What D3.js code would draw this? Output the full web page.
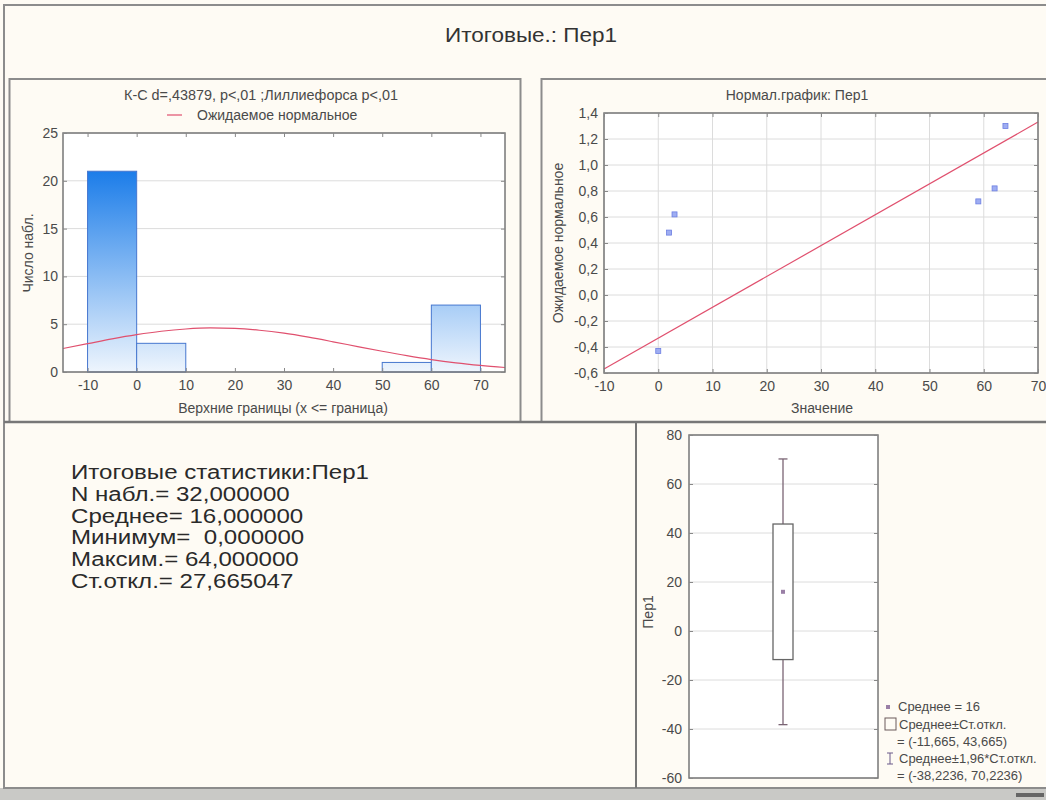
<!DOCTYPE html>
<html><head><meta charset="utf-8">
<script src="https://cdn.jsdelivr.net/npm/d3@7"></script>
<style>
body{margin:0;background:#fefbf4;}
svg{display:block;font-family:"Liberation Sans",Arial,sans-serif;}
</style></head>
<body><svg id="c" width="1046" height="800"></svg>
<script>
// ---------- data ----------
const mainTitle = "Итоговые.: Пер1";
// histogram
const binEdges = [-10, 0, 10, 20, 30, 40, 50, 60];
const binWidth = 10;
const binCounts = [21, 3, 0, 0, 0, 0, 1, 7];
const histXTicks = [-10, 0, 10, 20, 30, 40, 50, 60, 70];
const histYTicks = [0, 5, 10, 15, 20, 25];
const normCurveX = [-15,-10,-5,0,5,10,15,20,25,30,35,40,45,50,55,60,65,70,75];
const normCurveY = [2.46,2.96,3.46,3.90,4.26,4.50,4.61,4.56,4.37,4.06,3.64,3.16,2.66,2.17,1.71,1.30,0.96,0.69,0.47];
const histTitle = "К-С d=,43879, p<,01 ;Лиллиефорса p<,01";
const histLegend = "Ожидаемое нормальное";
const histXLabel = "Верхние границы (x <= граница)";
const histYLabel = "Число набл.";
// normal probability plot
const qqValues = [0, 2, 3, 59, 62, 64];
const qqExpected = [-0.43, 0.48, 0.62, 0.72, 0.82, 1.30];
const qqLineX = [-10, 70];
const qqLineY = [-0.57, 1.33];
const qqXTicks = [-10, 0, 10, 20, 30, 40, 50, 60, 70];
const qqYTicks = [-0.6,-0.4,-0.2,0.0,0.2,0.4,0.6,0.8,1.0,1.2,1.4];
const qqTitle = "Нормал.график: Пер1";
const qqXLabel = "Значение";
const qqYLabel = "Ожидаемое нормальное";
// summary text
const statLines = ["Итоговые статистики:Пер1","N набл.= 32,000000","Среднее= 16,000000","Минимум=  0,000000","Максим.= 64,000000","Ст.откл.= 27,665047"];
// box plot
const boxMean = 16;
const boxSD = [-11.665, 43.665];
const boxCI = [-38.2236, 70.2236];
const boxYTicks = [-60,-40,-20,0,20,40,60,80];
const boxYLabel = "Пер1";
const boxLegend = ["Среднее = 16","Среднее±Ст.откл.","= (-11,665, 43,665)","Среднее±1,96*Ст.откл.","= (-38,2236, 70,2236)"];

// ---------- drawing ----------
const svg = d3.select("#c");
const FRAME = "#8c8c8c", GRID = "#dcdcdc", TXT = "#4a4a4a";
const FS = 14;
const fmtInt = d => String(d).replace("\u2212","-");
const fmtQ = d => d3.format(".1f")(d).replace(".", ",").replace("\u2212","-");

// background frame
svg.append("rect").attr("x",0).attr("y",0).attr("width",1046).attr("height",800).attr("fill","#fefbf4");
svg.append("rect").attr("x",0).attr("y",788).attr("width",1046).attr("height",12).attr("fill","#c9c9c6");
svg.append("rect").attr("x",1016).attr("y",793).attr("width",28).attr("height",4).attr("fill","#666");
svg.append("line").attr("x1",3).attr("x2",1046).attr("y1",5).attr("y2",5).attr("stroke",FRAME).attr("stroke-width",2);
svg.append("line").attr("x1",4).attr("x2",4).attr("y1",4).attr("y2",789).attr("stroke",FRAME).attr("stroke-width",2);
svg.append("line").attr("x1",4).attr("x2",1046).attr("y1",788).attr("y2",788).attr("stroke",FRAME).attr("stroke-width",2);

svg.append("text").attr("x",531).attr("y",42).attr("text-anchor","middle")
  .attr("font-size",20).attr("fill","#333")
  .attr("textLength",172).attr("lengthAdjust","spacingAndGlyphs").text(mainTitle);

// panels
svg.append("rect").attr("x",9.5).attr("y",79).attr("width",511).attr("height",343).attr("fill","none").attr("stroke",FRAME).attr("stroke-width",2);
svg.append("rect").attr("x",541.5).attr("y",79).attr("width",510).attr("height",343).attr("fill","none").attr("stroke",FRAME).attr("stroke-width",2);
svg.append("line").attr("x1",4).attr("x2",1046).attr("y1",422).attr("y2",422).attr("stroke","#777").attr("stroke-width",2.5);
svg.append("line").attr("x1",636).attr("x2",636).attr("y1",422).attr("y2",788).attr("stroke","#777").attr("stroke-width",2);

function plotFrame(g, x0, x1, y0, y1){
  g.append("rect").attr("x",x0).attr("y",y0).attr("width",x1-x0).attr("height",y1-y0).attr("fill","#fff");
}
function border(g, x0, x1, y0, y1){
  g.append("rect").attr("x",x0).attr("y",y0).attr("width",x1-x0).attr("height",y1-y0)
   .attr("fill","none").attr("stroke","#777").attr("stroke-width",1.5);
}
function styleAxis(a){
  a.select(".domain").remove();
  a.selectAll(".tick line").attr("stroke","#888");
  a.selectAll(".tick text").attr("fill",TXT).attr("font-size",FS).attr("font-family","Liberation Sans, Arial, sans-serif");
}

// ---- histogram ----
{
  const L=63,R=505,T=133,B=372;
  const g = svg.append("g");
  const x = d3.scaleLinear().domain([-15,75]).range([L,R]);
  const y = d3.scaleLinear().domain([0,25]).range([B,T]);
  plotFrame(g,L,R,T,B);
  g.selectAll(".hg").data(histYTicks).join("line").attr("x1",L).attr("x2",R)
    .attr("y1",d=>y(d)).attr("y2",d=>y(d)).attr("stroke",GRID);
  const defs = svg.append("defs");
  const grad = defs.append("linearGradient").attr("id","bg").attr("gradientUnits","userSpaceOnUse")
    .attr("x1",0).attr("x2",0).attr("y1",y(21)).attr("y2",y(0));
  grad.append("stop").attr("offset",0).attr("stop-color","#1c7de9");
  grad.append("stop").attr("offset",1).attr("stop-color","#eef5fd");
  const bins = binEdges.map((e,i)=>({x0:e,x1:e+binWidth,n:binCounts[i]})).filter(d=>d.n>0);
  g.selectAll(".bar").data(bins).join("rect")
    .attr("x",d=>x(d.x0)).attr("width",d=>x(d.x1)-x(d.x0))
    .attr("y",d=>y(d.n)).attr("height",d=>y(0)-y(d.n))
    .attr("fill","url(#bg)").attr("stroke","#4677cf").attr("stroke-width",1);
  const line = d3.line().x((d,i)=>x(normCurveX[i])).y(d=>y(d)).curve(d3.curveMonotoneX);
  g.append("path").datum(normCurveY).attr("d",line).attr("fill","none").attr("stroke","#e0506e").attr("stroke-width",1.2);
  border(g,L,R,T,B);
  const ax = g.append("g").attr("transform",`translate(0,${B})`).call(d3.axisBottom(x).tickValues(histXTicks).tickSize(-4).tickPadding(8).tickFormat(fmtInt));
  styleAxis(ax);
  const ay = g.append("g").attr("transform",`translate(${L},0)`).call(d3.axisLeft(y).tickValues(histYTicks).tickSize(-4).tickPadding(5).tickFormat(fmtInt));
  styleAxis(ay);
  g.append("g").attr("transform",`translate(0,${T})`).call(d3.axisTop(x).tickValues(histXTicks).tickSize(-4).tickFormat("")).call(styleAxis);
  g.append("g").attr("transform",`translate(${R},0)`).call(d3.axisRight(y).tickValues(histYTicks).tickSize(-4).tickFormat("")).call(styleAxis);
  g.append("text").attr("x",261).attr("y",100).attr("text-anchor","middle").attr("font-size",FS).attr("fill",TXT)
    .attr("textLength",274).attr("lengthAdjust","spacingAndGlyphs").text(histTitle);
  g.append("line").attr("x1",167).attr("x2",182).attr("y1",115).attr("y2",115).attr("stroke","#e0506e").attr("stroke-width",1.2);
  g.append("text").attr("x",197).attr("y",120).attr("font-size",FS).attr("fill",TXT).text(histLegend);
  g.append("text").attr("x",283).attr("y",413).attr("text-anchor","middle").attr("font-size",FS).attr("fill",TXT).text(histXLabel);
  g.append("text").attr("transform","translate(33,253) rotate(-90)").attr("text-anchor","middle").attr("font-size",FS).attr("fill",TXT).text(histYLabel);
}

// ---- normal probability plot ----
{
  const L=604,R=1038,T=113,B=373;
  const g = svg.append("g");
  const x = d3.scaleLinear().domain([-10,70]).range([L,R]);
  const y = d3.scaleLinear().domain([-0.6,1.4]).range([B,T]);
  plotFrame(g,L,R,T,B);
  g.selectAll(".vg").data(qqXTicks).join("line").attr("y1",T).attr("y2",B)
    .attr("x1",d=>x(d)).attr("x2",d=>x(d)).attr("stroke",GRID);
  g.selectAll(".hg").data(qqYTicks).join("line").attr("x1",L).attr("x2",R)
    .attr("y1",d=>y(d)).attr("y2",d=>y(d)).attr("stroke",GRID);
  g.append("line").attr("x1",x(qqLineX[0])).attr("x2",x(qqLineX[1])).attr("y1",y(qqLineY[0])).attr("y2",y(qqLineY[1]))
    .attr("stroke","#e0506e").attr("stroke-width",1.2);
  g.selectAll(".pt").data(qqValues).join("rect")
    .attr("x",(d)=>x(d)-2.5).attr("y",(d,i)=>y(qqExpected[i])-2.5).attr("width",5).attr("height",5)
    .attr("fill","#9eadf2").attr("stroke","#6d7fe2").attr("stroke-width",0.8);
  border(g,L,R,T,B);
  const ax = g.append("g").attr("transform",`translate(0,${B})`).call(d3.axisBottom(x).tickValues(qqXTicks).tickSize(-4).tickPadding(8).tickFormat(fmtInt));
  styleAxis(ax);
  const ay = g.append("g").attr("transform",`translate(${L},0)`).call(d3.axisLeft(y).tickValues(qqYTicks).tickSize(-4).tickPadding(6).tickFormat(fmtQ));
  styleAxis(ay);
  g.append("g").attr("transform",`translate(0,${T})`).call(d3.axisTop(x).tickValues(qqXTicks).tickSize(-4).tickFormat("")).call(styleAxis);
  g.append("g").attr("transform",`translate(${R},0)`).call(d3.axisRight(y).tickValues(qqYTicks).tickSize(-4).tickFormat("")).call(styleAxis);
  g.append("text").attr("x",797).attr("y",100).attr("text-anchor","middle").attr("font-size",FS).attr("fill",TXT).text(qqTitle);
  g.append("text").attr("x",822).attr("y",413).attr("text-anchor","middle").attr("font-size",FS).attr("fill",TXT).text(qqXLabel);
  g.append("text").attr("transform","translate(563,243) rotate(-90)").attr("text-anchor","middle").attr("font-size",FS).attr("fill",TXT).text(qqYLabel);
}

// ---- summary statistics text ----
{
  const st = svg.append("g").selectAll("text").data(statLines).join("text")
    .attr("x",71).attr("y",(d,i)=>479+i*21.8).attr("font-size",19.5).attr("fill","#2a2a2a")
    .attr("xml:space","preserve").style("white-space","pre").text(d=>d);
  const w0 = st.nodes()[0].getComputedTextLength();
  const k = 298 / w0;
  st.each(function(){ const w=this.getComputedTextLength(); d3.select(this).attr("textLength",w*k).attr("lengthAdjust","spacingAndGlyphs"); });
}

// ---- box plot ----
{
  const L=689,R=878,T=435,B=778;
  const g = svg.append("g");
  const y = d3.scaleLinear().domain([-60,80]).range([B,T]);
  const cx = (L+R)/2 - 0.5;
  plotFrame(g,L,R,T,B);
  g.selectAll(".hg").data(boxYTicks).join("line").attr("x1",L).attr("x2",R)
    .attr("y1",d=>y(d)).attr("y2",d=>y(d)).attr("stroke",GRID);
  const WC = "#7a6474";
  g.append("line").attr("x1",cx).attr("x2",cx).attr("y1",y(boxCI[1])).attr("y2",y(boxCI[0])).attr("stroke",WC).attr("stroke-width",1.3);
  [boxCI[0],boxCI[1]].forEach(v=>g.append("line").attr("x1",cx-4.5).attr("x2",cx+4.5).attr("y1",y(v)).attr("y2",y(v)).attr("stroke",WC).attr("stroke-width",1.3));
  g.append("rect").attr("x",cx-10).attr("width",20).attr("y",y(boxSD[1])).attr("height",y(boxSD[0])-y(boxSD[1]))
    .attr("fill","#fff").attr("stroke","#666").attr("stroke-width",1.3);
  g.append("rect").attr("x",cx-2).attr("y",y(boxMean)-2).attr("width",4).attr("height",4).attr("fill","#9a7fa6");
  border(g,L,R,T,B);
  const ay = g.append("g").attr("transform",`translate(${L},0)`).call(d3.axisLeft(y).tickValues(boxYTicks).tickSize(-4).tickPadding(7).tickFormat(fmtInt));
  styleAxis(ay);
  g.append("g").attr("transform",`translate(${R},0)`).call(d3.axisRight(y).tickValues(boxYTicks).tickSize(-4).tickFormat("")).call(styleAxis);
  g.append("text").attr("transform",`translate(653,${612}) rotate(-90)`).attr("text-anchor","middle").attr("font-size",FS).attr("fill",TXT).text(boxYLabel);
  // legend
  const lys = [711, 729, 746, 763, 780];
  g.append("rect").attr("x",886).attr("y",lys[0]-6).attr("width",4).attr("height",4).attr("fill","#9a7fa6");
  g.append("rect").attr("x",885).attr("y",lys[1]-11).attr("width",11).attr("height",12).attr("fill","none").attr("stroke","#6a5a5a");
  g.append("line").attr("x1",890).attr("x2",890).attr("y1",lys[3]-10).attr("y2",lys[3]+1).attr("stroke","#6a5a8a");
  g.append("line").attr("x1",887).attr("x2",893).attr("y1",lys[3]-10).attr("y2",lys[3]-10).attr("stroke","#6a5a8a");
  g.append("line").attr("x1",887).attr("x2",893).attr("y1",lys[3]+1).attr("y2",lys[3]+1).attr("stroke","#6a5a8a");
  const lxs = [898, 899, 897, 899, 897];
  g.selectAll(".lg").data(boxLegend).join("text").attr("x",(d,i)=>lxs[i]).attr("y",(d,i)=>lys[i])
    .attr("font-size",13).attr("fill",TXT).text(d=>d);
}
</script></body></html>
